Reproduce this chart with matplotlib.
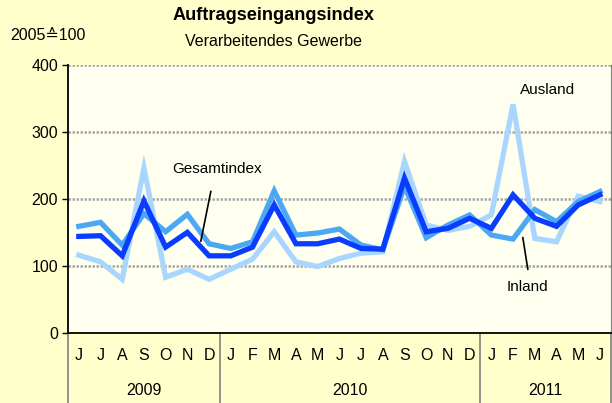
import matplotlib.pyplot as plt
import matplotlib.transforms as mtransforms

plt.rcParams['font.family'] = ['Liberation Sans', 'DejaVu Sans']

months = ['J', 'J', 'A', 'S', 'O', 'N', 'D',
          'J', 'F', 'M', 'A', 'M', 'J', 'J', 'A', 'S', 'O', 'N', 'D',
          'J', 'F', 'M', 'A', 'M', 'J']
years = ['2009', '2010', '2011']
year_spans = [(0, 6), (7, 18), (19, 24)]

gesamt = [144, 145, 115, 197, 128, 150, 115, 115, 128, 191, 133, 133, 140,
          126, 125, 231, 151, 156, 171, 156, 206, 171, 159, 191, 206]
inland = [159, 165, 131, 178, 151, 177, 133, 126, 136, 212, 146, 149, 155,
          131, 124, 219, 142, 161, 176, 146, 140, 184, 166, 196, 211]
ausland = [116, 106, 80, 246, 83, 95, 80, 95, 110, 151, 106, 99, 111,
           119, 121, 256, 161, 153, 159, 176, 341, 141, 136, 204, 196]

fig = plt.figure(figsize=(6.12, 4.03), dpi=100, facecolor='#FFFFCC')
ax = fig.add_axes([0.111, 0.174, 0.887, 0.665])
ax.set_facecolor('#FFFFF0')

x = list(range(len(months)))
ax.plot(x, ausland, color='#A8D6FF', lw=3.8, solid_joinstyle='miter', zorder=3)
ax.plot(x, inland, color='#4BA8F4', lw=3.8, solid_joinstyle='miter', zorder=4)
ax.plot(x, gesamt, color='#0A3CFF', lw=3.8, solid_joinstyle='miter', zorder=5)

ax.set_xlim(-0.5, len(months) - 0.5)
ax.set_ylim(0, 400)
ax.set_yticks([0, 100, 200, 300, 400])
ax.tick_params(axis='y', labelsize=11.5, length=4, width=1, direction='out', pad=3)
for v in [100, 200, 300, 400]:
    ax.axhline(v, color='#A8A8A8', lw=1.8, ls=(0, (1, 0.6)), zorder=1)

ax.set_xticks(x)
ax.set_xticklabels(months, fontsize=11.5)
ax.tick_params(axis='x', length=0, pad=11)

ax.spines['top'].set_visible(False)
ax.spines['right'].set_color('#808080')
ax.spines['left'].set_linewidth(1.3)
ax.spines['bottom'].set_linewidth(1.3)

trans = mtransforms.blended_transform_factory(ax.transData, ax.transAxes)
for (a, b), yr in zip(year_spans, years):
    ax.text((a + b) / 2, -0.215, yr, transform=trans, ha='center', va='center', fontsize=11.5)
for bnd in [-0.5, 6.5, 18.5, 24.5]:
    ax.plot([bnd, bnd], [0, -0.27], transform=trans, color='#808080', lw=1.2, clip_on=False)

fig.text(0.447, 0.962, 'Auftragseingangsindex', ha='center', va='center',
         fontsize=13.1, fontweight='bold')
fig.text(0.447, 0.898, 'Verarbeitendes Gewerbe', ha='center', va='center', fontsize=11.5)
fig.text(0.016, 0.913, '2005\u2259100', ha='left', va='center', fontsize=11.5)

ax.text(6.36, 244, 'Gesamtindex', ha='center', va='center', fontsize=11)
ax.plot([6.08, 5.62], [211, 137], color='black', lw=1.2, zorder=6)
ax.text(21.6, 363, 'Ausland', ha='center', va='center', fontsize=11)
ax.text(20.68, 69, 'Inland', ha='center', va='center', fontsize=11)
ax.plot([20.45, 20.68], [142, 95], color='black', lw=1.2, zorder=6)

fig.savefig('out.png', dpi=100, facecolor=fig.get_facecolor())
